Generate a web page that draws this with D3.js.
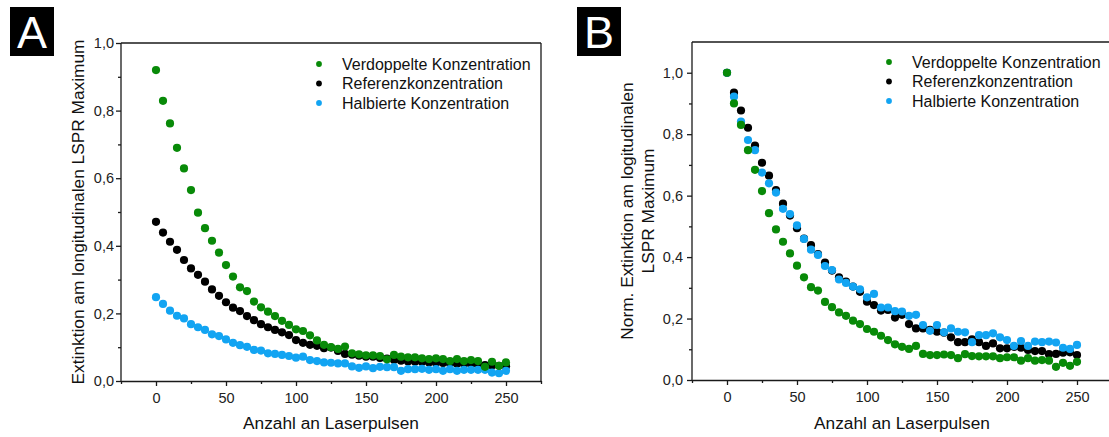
<!DOCTYPE html>
<html>
<head>
<meta charset="utf-8">
<script src="https://cdn.jsdelivr.net/npm/d3@7"></script>
<style>
  html, body { margin: 0; padding: 0; background: #fff; }
  svg { display: block; font-family: "Liberation Sans", Arial, sans-serif; }
</style>
</head>
<body>
<svg id="chart" width="1109" height="437"></svg>
<script>
// ---------- data ----------
const pulses = d3.range(0, 251, 5); // 0..250 step 5

const seriesNames = ["Verdoppelte Konzentration", "Referenzkonzentration", "Halbierte Konzentration"];
const seriesColors = ["#088a08", "#000000", "#12a4f2"];

// Panel A: Extinktion
const aVerdoppelt = [0.920,0.829,0.762,0.690,0.629,0.565,0.498,0.452,0.415,0.380,0.343,0.309,0.277,0.266,0.235,0.218,0.205,0.192,0.178,0.166,0.153,0.148,0.135,0.120,0.107,0.100,0.095,0.102,0.082,0.079,0.076,0.076,0.074,0.064,0.077,0.072,0.070,0.070,0.067,0.065,0.067,0.065,0.059,0.065,0.059,0.062,0.059,0.042,0.057,0.045,0.055];
const aReferenz   = [0.471,0.439,0.412,0.388,0.358,0.333,0.314,0.294,0.271,0.252,0.233,0.217,0.207,0.192,0.180,0.168,0.159,0.151,0.144,0.136,0.121,0.113,0.107,0.104,0.097,0.099,0.089,0.080,0.078,0.075,0.072,0.072,0.068,0.066,0.062,0.060,0.058,0.057,0.056,0.055,0.053,0.053,0.052,0.051,0.050,0.050,0.048,0.047,0.046,0.045,0.044];
const aHalbiert   = [0.248,0.228,0.208,0.193,0.185,0.168,0.159,0.151,0.138,0.133,0.123,0.113,0.106,0.101,0.092,0.090,0.082,0.080,0.077,0.074,0.069,0.072,0.062,0.059,0.055,0.054,0.052,0.052,0.043,0.039,0.043,0.038,0.042,0.041,0.041,0.030,0.035,0.035,0.036,0.033,0.035,0.030,0.035,0.030,0.033,0.033,0.033,0.033,0.025,0.023,0.030];

// Panel B: normierte Extinktion
const bVerdoppelt = [1.000,0.900,0.830,0.748,0.684,0.615,0.543,0.490,0.450,0.412,0.372,0.334,0.302,0.291,0.254,0.237,0.220,0.209,0.193,0.182,0.166,0.157,0.144,0.130,0.116,0.108,0.101,0.111,0.085,0.081,0.081,0.083,0.081,0.071,0.084,0.078,0.077,0.077,0.077,0.071,0.074,0.074,0.063,0.071,0.063,0.065,0.063,0.043,0.056,0.046,0.059];
const bReferenz   = [1.000,0.935,0.877,0.821,0.763,0.707,0.665,0.618,0.574,0.535,0.494,0.460,0.439,0.410,0.382,0.356,0.334,0.320,0.304,0.287,0.255,0.244,0.226,0.228,0.203,0.212,0.182,0.168,0.168,0.163,0.157,0.154,0.139,0.123,0.123,0.132,0.123,0.111,0.119,0.103,0.103,0.108,0.105,0.098,0.094,0.094,0.084,0.085,0.089,0.090,0.081];
const bHalbiert   = [1.000,0.922,0.841,0.781,0.748,0.675,0.640,0.610,0.557,0.540,0.503,0.459,0.424,0.407,0.371,0.358,0.327,0.316,0.304,0.295,0.269,0.280,0.236,0.236,0.224,0.223,0.209,0.212,0.179,0.160,0.179,0.155,0.168,0.157,0.155,0.123,0.146,0.146,0.152,0.139,0.130,0.111,0.127,0.111,0.125,0.123,0.125,0.122,0.105,0.101,0.114];

const xMajorTicks = [0, 50, 100, 150, 200, 250];
const xMinorTicks = [-25, 25, 75, 125, 175, 225, 275];
const yMajorTicks = [0, 0.2, 0.4, 0.6, 0.8, 1.0];
const yMinorTicks = [0.1, 0.3, 0.5, 0.7, 0.9];

const xTitle = "Anzahl an Laserpulsen";
const yTitleA = ["Extinktion am longitudinalen LSPR Maximum"];
const yTitleB = ["Norm. Extinktion am logitudinalen", "LSPR Maximum"];

// ---------- drawing ----------
const svg = d3.select("#chart");
const fmt = d => d3.format(".1f")(d).replace(".", ",");
const axisColor = "#1a1a1a";

function panel(cfg) {
  const x = d3.scaleLinear().domain([-25, 275]).range([cfg.left, cfg.right]);
  const y = d3.scaleLinear().domain(cfg.yDomain).range([cfg.bottom, cfg.top]);
  const g = svg.append("g");

  // frame (top & right)
  g.append("line").attr("x1", cfg.left).attr("x2", cfg.right).attr("y1", cfg.top).attr("y2", cfg.top)
    .attr("stroke", axisColor).attr("stroke-width", 1.3);
  g.append("line").attr("x1", cfg.right).attr("x2", cfg.right).attr("y1", cfg.top).attr("y2", cfg.bottom)
    .attr("stroke", axisColor).attr("stroke-width", 1.3);

  // bottom axis
  g.append("g").attr("transform", `translate(0,${cfg.bottom})`)
    .call(d3.axisBottom(x).tickValues(xMajorTicks).tickSize(5).tickSizeOuter(0).tickPadding(7).tickFormat(d3.format("d")));
  g.append("g").attr("transform", `translate(0,${cfg.bottom})`)
    .call(d3.axisBottom(x).tickValues(xMinorTicks).tickSize(3).tickSizeOuter(0).tickFormat(""))
    .select(".domain").remove();

  // left axis
  const yAx = g.append("g").attr("transform", `translate(${cfg.left},0)`)
    .call(d3.axisLeft(y).tickValues(yMajorTicks).tickSize(5).tickSizeOuter(0).tickPadding(cfg.yPad).tickFormat(fmt));
  g.append("g").attr("transform", `translate(${cfg.left},0)`)
    .call(d3.axisLeft(y).tickValues(yMinorTicks).tickSize(3).tickSizeOuter(0).tickFormat(""))
    .select(".domain").remove();

  yAx.select(".domain").attr("d", `M0,${cfg.top}V${cfg.bottom}`);

  g.selectAll(".domain, .tick line").attr("stroke", axisColor).attr("stroke-width", 1.3);
  g.selectAll(".tick text").attr("font-size", 14.5).attr("fill", "#222")
    .attr("font-family", "'Liberation Sans', Arial, sans-serif");

  // data points: reference, halved, doubled (top)
  const order = [1, 2, 0];
  order.forEach(i => {
    g.append("g").selectAll("circle")
      .data(pulses.map((p, k) => ({ p, v: cfg.series[i][k] })))
      .join("circle")
      .attr("cx", d => x(d.p))
      .attr("cy", d => y(d.v))
      .attr("r", 4.1)
      .attr("fill", seriesColors[i]);
  });

  // axis titles
  g.append("text").attr("x", (cfg.left + cfg.right) / 2).attr("y", 429)
    .attr("text-anchor", "middle").attr("font-size", 17.3).attr("fill", "#111").text(xTitle);
  const yc = (cfg.top + cfg.bottom) / 2;
  cfg.yTitle.forEach((t, k) => {
    g.append("text")
      .attr("transform", `translate(${cfg.yTitleX + k * 21},${yc}) rotate(-90)`)
      .attr("text-anchor", "middle").attr("font-size", 17.3).attr("fill", "#111").text(t);
  });

  // legend
  seriesNames.forEach((n, i) => {
    const ly = cfg.legY + i * 19.5;
    g.append("circle").attr("cx", cfg.legX).attr("cy", ly).attr("r", 2.9).attr("fill", seriesColors[i]);
    g.append("text").attr("x", cfg.legX + 23).attr("y", ly + 5.8)
      .attr("font-size", 16).attr("fill", "#111").text(n);
  });

  // panel letter
  g.append("rect").attr("x", cfg.boxX).attr("y", 7).attr("width", 44).attr("height", 49).attr("fill", "#000");
  g.append("text").attr("x", cfg.boxX + 22).attr("y", 47.5).attr("text-anchor", "middle")
    .attr("font-size", 45).attr("fill", "#fff").text(cfg.letter);
}

panel({
  left: 121, right: 541, top: 43, bottom: 381, yDomain: [0, 1.0], yPad: 2,
  series: [aVerdoppelt, aReferenz, aHalbiert],
  yTitle: yTitleA, yTitleX: 84,
  legX: 319, legY: 64, boxX: 10, letter: "A"
});
panel({
  left: 692, right: 1112, top: 42, bottom: 380, yDomain: [0, 1.1], yPad: 4,
  series: [bVerdoppelt, bReferenz, bHalbiert],
  yTitle: yTitleB, yTitleX: 633,
  legX: 889, legY: 62, boxX: 577, letter: "B"
});
</script>
</body>
</html>
